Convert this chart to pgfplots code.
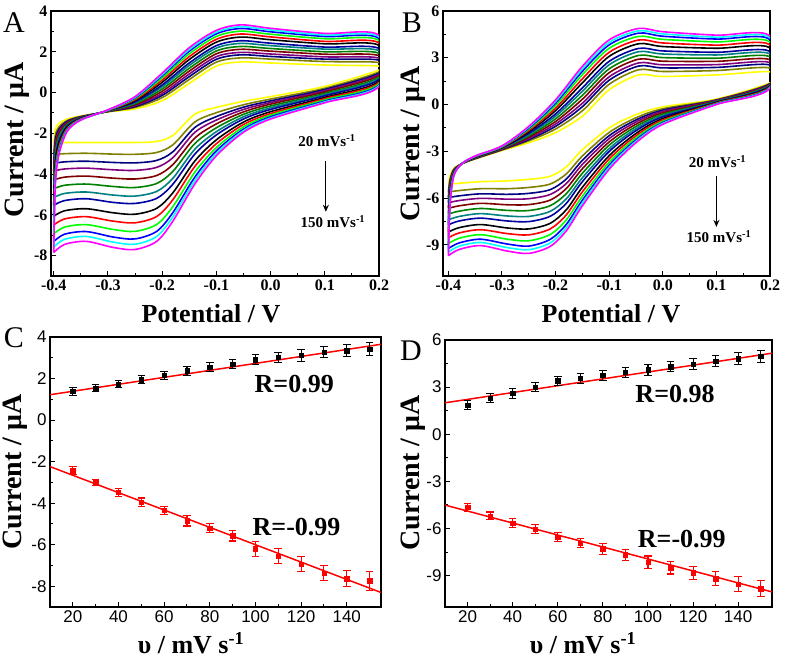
\documentclass[border=0pt]{standalone}
\usepackage{fontspec}
\setmainfont{Liberation Serif}
\newfontfamily\arial{Liberation Sans}
\usepackage{pgfplots}
\usepackage{pgfplotstable}
\pgfplotsset{compat=1.18}
\usetikzlibrary{arrows.meta}

\definecolor{col20}{RGB}{255,255,0}
\definecolor{col30}{RGB}{128,128,0}
\definecolor{col40}{RGB}{0,0,128}
\definecolor{col50}{RGB}{128,0,128}
\definecolor{col60}{RGB}{128,0,0}
\definecolor{col70}{RGB}{0,128,0}
\definecolor{col80}{RGB}{0,128,128}
\definecolor{col90}{RGB}{0,0,160}
\definecolor{col100}{RGB}{0,0,0}
\definecolor{col110}{RGB}{255,0,0}
\definecolor{col120}{RGB}{0,255,0}
\definecolor{col130}{RGB}{0,0,255}
\definecolor{col140}{RGB}{0,255,255}
\definecolor{col150}{RGB}{255,0,255}

% CV loops, panel A (anodic sweep, then cathodic sweep back)
\pgfplotstableread{
x c20 c30 c40 c50 c60 c70 c80 c90 c100 c110 c120 c130 c140 c150
-0.4 -2.45 -3.04 -3.48 -3.85 -4.29 -4.72 -5.15 -5.53 -6.07 -6.50 -6.93 -7.31 -7.58 -7.85
-0.397 -1.80 -2.10 -2.31 -2.50 -2.72 -2.93 -3.15 -3.34 -3.61 -3.83 -4.04 -4.23 -4.37 -4.50
-0.39 -1.50 -1.67 -1.79 -1.89 -2.01 -2.13 -2.25 -2.36 -2.51 -2.63 -2.75 -2.85 -2.93 -3.00
-0.375 -1.30 -1.37 -1.41 -1.46 -1.50 -1.55 -1.60 -1.64 -1.70 -1.75 -1.80 -1.84 -1.87 -1.90
-0.35 -1.15 -1.17 -1.19 -1.20 -1.22 -1.23 -1.25 -1.26 -1.28 -1.30 -1.32 -1.33 -1.34 -1.35
-0.30 -0.95 -0.94 -0.93 -0.92 -0.92 -0.91 -0.90 -0.89 -0.88 -0.88 -0.87 -0.86 -0.86 -0.85
-0.25 -0.80 -0.73 -0.69 -0.64 -0.60 -0.55 -0.50 -0.46 -0.40 -0.35 -0.30 -0.26 -0.23 -0.20
-0.20 -0.40 -0.25 -0.14 -0.05 0.06 0.17 0.28 0.37 0.50 0.61 0.72 0.82 0.88 0.95
-0.15 0.45 0.64 0.78 0.91 1.05 1.19 1.33 1.45 1.62 1.76 1.90 2.03 2.11 2.20
-0.10 1.30 1.49 1.63 1.76 1.90 2.04 2.18 2.30 2.47 2.61 2.75 2.88 2.96 3.05
-0.055 1.50 1.70 1.85 1.97 2.12 2.26 2.41 2.54 2.72 2.87 3.01 3.14 3.23 3.32
0.0 1.45 1.64 1.77 1.89 2.03 2.16 2.30 2.42 2.59 2.73 2.86 2.98 3.07 3.15
0.1 1.35 1.52 1.64 1.75 1.88 2.00 2.13 2.23 2.39 2.51 2.64 2.75 2.82 2.90
0.2 1.30 1.47 1.59 1.69 1.81 1.93 2.05 2.16 2.31 2.43 2.55 2.65 2.73 2.80
0.2 1.10 1.01 0.95 0.89 0.83 0.76 0.70 0.64 0.56 0.50 0.44 0.38 0.34 0.30
0.1 0.30 0.21 0.15 0.09 0.03 -0.04 -0.10 -0.16 -0.24 -0.30 -0.36 -0.42 -0.46 -0.50
0.0 -0.20 -0.32 -0.41 -0.49 -0.57 -0.66 -0.75 -0.83 -0.94 -1.03 -1.11 -1.19 -1.25 -1.30
-0.05 -0.43 -0.60 -0.72 -0.83 -0.95 -1.07 -1.19 -1.30 -1.45 -1.57 -1.69 -1.80 -1.87 -1.95
-0.10 -0.73 -0.99 -1.18 -1.35 -1.54 -1.73 -1.92 -2.08 -2.32 -2.51 -2.70 -2.86 -2.98 -3.10
-0.14 -1.07 -1.45 -1.72 -1.96 -2.24 -2.51 -2.79 -3.03 -3.37 -3.64 -3.92 -4.16 -4.33 -4.50
-0.18 -2.10 -2.56 -2.90 -3.19 -3.53 -3.86 -4.20 -4.49 -4.91 -5.25 -5.59 -5.88 -6.09 -6.30
-0.21 -2.40 -2.94 -3.33 -3.67 -4.07 -4.46 -4.85 -5.19 -5.68 -6.08 -6.47 -6.81 -7.06 -7.30
-0.25 -2.45 -3.03 -3.45 -3.82 -4.24 -4.66 -5.08 -5.44 -5.97 -6.39 -6.81 -7.18 -7.44 -7.70
-0.29 -2.45 -3.02 -3.43 -3.79 -4.20 -4.61 -5.03 -5.39 -5.90 -6.31 -6.72 -7.09 -7.34 -7.60
-0.34 -2.45 -2.98 -3.37 -3.71 -4.10 -4.49 -4.88 -5.21 -5.70 -6.09 -6.48 -6.82 -7.06 -7.30
-0.38 -2.45 -3.00 -3.40 -3.75 -4.15 -4.55 -4.95 -5.30 -5.80 -6.20 -6.60 -6.95 -7.20 -7.45
-0.4 -2.45 -3.04 -3.48 -3.85 -4.29 -4.72 -5.15 -5.53 -6.07 -6.50 -6.93 -7.31 -7.58 -7.85
}\tabA

% CV loops, panel B
\pgfplotstableread{
x c20 c30 c40 c50 c60 c70 c80 c90 c100 c110 c120 c130 c140 c150
-0.4 -5.10 -5.61 -5.97 -6.30 -6.66 -7.03 -7.40 -7.72 -8.18 -8.55 -8.92 -9.24 -9.47 -9.70
-0.397 -4.60 -4.81 -4.96 -5.09 -5.25 -5.40 -5.55 -5.68 -5.87 -6.03 -6.18 -6.31 -6.41 -6.50
-0.39 -4.10 -4.16 -4.20 -4.23 -4.27 -4.31 -4.35 -4.39 -4.44 -4.48 -4.52 -4.55 -4.58 -4.60
-0.375 -3.80 -3.80 -3.80 -3.80 -3.80 -3.80 -3.80 -3.80 -3.80 -3.80 -3.80 -3.80 -3.80 -3.80
-0.35 -3.50 -3.48 -3.46 -3.45 -3.43 -3.42 -3.40 -3.39 -3.37 -3.35 -3.33 -3.32 -3.31 -3.30
-0.30 -2.95 -2.92 -2.89 -2.87 -2.85 -2.82 -2.80 -2.78 -2.75 -2.73 -2.70 -2.68 -2.67 -2.65
-0.25 -2.45 -2.33 -2.25 -2.18 -2.09 -2.01 -1.93 -1.85 -1.75 -1.66 -1.58 -1.51 -1.45 -1.40
-0.20 -1.80 -1.57 -1.40 -1.25 -1.09 -0.92 -0.75 -0.60 -0.39 -0.23 -0.06 0.09 0.20 0.30
-0.15 -0.75 -0.40 -0.14 0.08 0.34 0.59 0.85 1.07 1.39 1.65 1.91 2.13 2.29 2.45
-0.10 0.95 1.30 1.56 1.78 2.04 2.29 2.55 2.77 3.09 3.35 3.61 3.83 3.99 4.15
-0.045 1.90 2.23 2.47 2.67 2.91 3.15 3.39 3.60 3.90 4.14 4.37 4.58 4.73 4.88
0.0 1.80 2.12 2.35 2.55 2.78 3.01 3.24 3.44 3.72 3.95 4.18 4.38 4.53 4.67
0.1 1.90 2.18 2.38 2.56 2.77 2.97 3.18 3.35 3.61 3.81 4.02 4.20 4.32 4.45
0.2 2.10 2.35 2.54 2.70 2.88 3.07 3.25 3.41 3.64 3.83 4.01 4.17 4.29 4.40
0.2 1.40 1.36 1.33 1.31 1.28 1.25 1.23 1.20 1.17 1.14 1.11 1.09 1.07 1.05
0.1 0.35 0.31 0.28 0.26 0.23 0.20 0.18 0.15 0.12 0.09 0.06 0.04 0.02 0.00
0.0 -0.15 -0.27 -0.36 -0.44 -0.53 -0.62 -0.71 -0.79 -0.90 -0.99 -1.08 -1.16 -1.21 -1.27
-0.05 -0.65 -0.85 -0.99 -1.12 -1.26 -1.41 -1.55 -1.68 -1.86 -2.00 -2.14 -2.27 -2.36 -2.45
-0.10 -1.50 -1.79 -2.00 -2.19 -2.40 -2.61 -2.83 -3.01 -3.28 -3.49 -3.70 -3.89 -4.02 -4.15
-0.15 -2.90 -3.30 -3.58 -3.84 -4.12 -4.41 -4.70 -4.95 -5.31 -5.60 -5.89 -6.14 -6.32 -6.50
-0.18 -4.00 -4.45 -4.78 -5.07 -5.39 -5.72 -6.05 -6.34 -6.75 -7.08 -7.40 -7.69 -7.90 -8.10
-0.21 -4.60 -5.10 -5.46 -5.77 -6.13 -6.49 -6.85 -7.17 -7.62 -7.98 -8.34 -8.65 -8.88 -9.10
-0.25 -4.80 -5.32 -5.70 -6.04 -6.42 -6.80 -7.18 -7.51 -7.98 -8.36 -8.74 -9.08 -9.31 -9.55
-0.29 -4.90 -5.40 -5.76 -6.07 -6.43 -6.79 -7.15 -7.47 -7.92 -8.28 -8.64 -8.95 -9.18 -9.40
-0.34 -4.95 -5.40 -5.73 -6.02 -6.34 -6.67 -7.00 -7.29 -7.70 -8.03 -8.35 -8.64 -8.85 -9.05
-0.38 -5.05 -5.52 -5.86 -6.16 -6.50 -6.84 -7.18 -7.47 -7.90 -8.24 -8.58 -8.88 -9.09 -9.30
-0.4 -5.10 -5.61 -5.97 -6.30 -6.66 -7.03 -7.40 -7.72 -8.18 -8.55 -8.92 -9.24 -9.47 -9.70
}\tabB

\pgfplotsset{
  panel/.style={
    scale only axis, anchor=south west,
    axis line style={line width=1.2pt},
    tick align=inside, tick pos=left,
    major tick length=5pt, minor tick length=3pt,
    every tick/.style={black, line width=1pt},
    minor tick num=1,
  },
  cvpanel/.style={panel,
    tick label style={font=\fontsize{16}{16}\selectfont\bfseries},
    xmax=0.2,
    xtick={-0.4,-0.3,-0.2,-0.1,0,0.1,0.2},
    xticklabels={-0.4,-0.3,-0.2,-0.1,0.0,0.1,0.2},
  },
  fitpanel/.style={panel,
    tick label style={font=\arial\fontsize{17}{17}\selectfont},
    xmin=10, xmax=155,
    xtick={20,40,60,80,100,120,140},
    xticklabels={20,40,60,80,100,120,140},
  },
  cv/.style={smooth, line width=1.6pt},
  pts/.style={only marks, mark=square*, mark size=2.2pt,
    error bars/y dir=both, error bars/y explicit,
    error bars/error bar style={line width=1.1pt},
    error bars/error mark options={rotate=90, mark size=3.8pt, line width=1.1pt}},
}

\begin{document}
\begin{tikzpicture}

% ---------- A ----------
\begin{axis}[cvpanel, at={(51pt,386pt)}, width=328pt, height=265pt,
  xmin=-0.405, ymin=-9, ymax=4,
  ytick={-8,-6,-4,-2,0,2,4}, yticklabels={-8,-6,-4,-2,0,2,4}]
\pgfplotsinvokeforeach{20,30,40,50,60,70,80,90,100,110,120,130,140,150}{
  \addplot[cv, color=col#1] table[x=x, y=c#1] {\tabA};
}
\node[font=\fontsize{15}{15}\selectfont\bfseries] at (axis cs:0.104,-2.35) {20 mVs\textsuperscript{-1}};
\draw[-{Stealth[length=7pt,width=6pt]}, line width=1.2pt] (axis cs:0.102,-3.35) -- (axis cs:0.102,-5.85);
\node[font=\fontsize{15}{15}\selectfont\bfseries] at (axis cs:0.115,-6.35) {150 mVs\textsuperscript{-1}};
\end{axis}

% ---------- B ----------
\begin{axis}[cvpanel, at={(443pt,386pt)}, width=327pt, height=265pt,
  xmin=-0.41, ymin=-11, ymax=6,
  ytick={-9,-6,-3,0,3,6}, yticklabels={-9,-6,-3,0,3,6}]
\pgfplotsinvokeforeach{20,30,40,50,60,70,80,90,100,110,120,130,140,150}{
  \addplot[cv, color=col#1] table[x=x, y=c#1] {\tabB};
}
\node[font=\fontsize{15}{15}\selectfont\bfseries] at (axis cs:0.102,-3.65) {20 mVs\textsuperscript{-1}};
\draw[-{Stealth[length=7pt,width=6pt]}, line width=1.2pt] (axis cs:0.100,-4.6) -- (axis cs:0.100,-7.85);
\node[font=\fontsize{15}{15}\selectfont\bfseries] at (axis cs:0.105,-8.5) {150 mVs\textsuperscript{-1}};
\end{axis}

% ---------- C ----------
\begin{axis}[fitpanel, at={(50pt,55pt)}, width=331pt, height=270pt,
  ymin=-9, ymax=4,
  ytick={-8,-6,-4,-2,0,2,4}, yticklabels={-8,-6,-4,-2,0,2,4}]
\addplot[red, line width=1.5pt] coordinates {(10,1.22) (155,3.65)};
\addplot[red, line width=1.5pt] coordinates {(10,-2.24) (155,-8.30)};
\addplot[black, pts] coordinates {
 (20,1.38) +- (0,0.18) (30,1.54) +- (0,0.18) (40,1.73) +- (0,0.18) (50,1.94) +- (0,0.2)
 (60,2.15) +- (0,0.2) (70,2.38) +- (0,0.22) (80,2.54) +- (0,0.22) (90,2.70) +- (0,0.22)
 (100,2.91) +- (0,0.25) (110,3.02) +- (0,0.25) (120,3.11) +- (0,0.27) (130,3.28) +- (0,0.27)
 (140,3.34) +- (0,0.3) (150,3.42) +- (0,0.3)};
\addplot[red, pts] coordinates {
 (20,-2.44) +- (0,0.2) (30,-3.00) +- (0,0.15) (40,-3.48) +- (0,0.18) (50,-3.95) +- (0,0.2)
 (60,-4.35) +- (0,0.2) (70,-4.85) +- (0,0.25) (80,-5.20) +- (0,0.22) (90,-5.57) +- (0,0.25)
 (100,-6.20) +- (0,0.35) (110,-6.54) +- (0,0.35) (120,-6.93) +- (0,0.35) (130,-7.37) +- (0,0.35)
 (140,-7.63) +- (0,0.4) (150,-7.74) +- (0,0.45)};
\node[font=\fontsize{26}{26}\selectfont\bfseries] at (axis cs:117,1.72) {R=0.99};
\node[font=\fontsize{26}{26}\selectfont\bfseries] at (axis cs:118,-5.16) {R=-0.99};
\end{axis}

% ---------- D ----------
\begin{axis}[fitpanel, at={(445pt,55pt)}, width=327pt, height=267pt,
  ymin=-11, ymax=6,
  ytick={-9,-6,-3,0,3,6}, yticklabels={-9,-6,-3,0,3,6}]
\addplot[red, line width=1.5pt] coordinates {(10,2.00) (155,5.16)};
\addplot[red, line width=1.5pt] coordinates {(10,-4.51) (155,-10.04)};
\addplot[black, pts] coordinates {
 (20,1.85) +- (0,0.3) (30,2.30) +- (0,0.3) (40,2.60) +- (0,0.3) (50,3.00) +- (0,0.3)
 (60,3.40) +- (0,0.3) (70,3.55) +- (0,0.3) (80,3.75) +- (0,0.32) (90,3.95) +- (0,0.32)
 (100,4.10) +- (0,0.35) (110,4.30) +- (0,0.32) (120,4.45) +- (0,0.35) (130,4.65) +- (0,0.35)
 (140,4.80) +- (0,0.38) (150,4.95) +- (0,0.4)};
\addplot[red, pts] coordinates {
 (20,-4.66) +- (0,0.25) (30,-5.20) +- (0,0.25) (40,-5.67) +- (0,0.28) (50,-6.05) +- (0,0.28)
 (60,-6.55) +- (0,0.3) (70,-6.93) +- (0,0.3) (80,-7.30) +- (0,0.35) (90,-7.67) +- (0,0.35)
 (100,-8.15) +- (0,0.4) (110,-8.50) +- (0,0.4) (120,-8.82) +- (0,0.42) (130,-9.20) +- (0,0.45)
 (140,-9.56) +- (0,0.48) (150,-9.83) +- (0,0.5)};
\node[font=\fontsize{26}{26}\selectfont\bfseries] at (axis cs:112,2.55) {R=0.98};
\node[font=\fontsize{26}{26}\selectfont\bfseries] at (axis cs:115,-6.65) {R=-0.99};
\end{axis}

% panel letters
\node[font=\fontsize{30}{30}\selectfont] at (14pt,639pt) {A};
\node[font=\fontsize{30}{30}\selectfont] at (412pt,639pt) {B};
\node[font=\fontsize{30}{30}\selectfont] at (14pt,324pt) {C};
\node[font=\fontsize{30}{30}\selectfont] at (411pt,311pt) {D};

% axis titles
\node[rotate=90, font=\fontsize{28}{28}\selectfont\bfseries] at (17pt,522pt) {Current / μA};
\node[rotate=90, font=\fontsize{28}{28}\selectfont\bfseries] at (413pt,518pt) {Current / μA};
\node[rotate=90, font=\fontsize{28}{28}\selectfont\bfseries] at (15pt,190pt) {Current / μA};
\node[rotate=90, font=\fontsize{28}{28}\selectfont\bfseries] at (413pt,189pt) {Current / μA};
\node[font=\fontsize{26}{26}\selectfont\bfseries] at (211pt,348pt) {Potential / V};
\node[font=\fontsize{26}{26}\selectfont\bfseries] at (611pt,348pt) {Potential / V};
\node[font=\fontsize{26}{26}\selectfont\bfseries] at (191pt,19pt) {υ / mV s\textsuperscript{-1}};
\node[font=\fontsize{26}{26}\selectfont\bfseries] at (583pt,19pt) {υ / mV s\textsuperscript{-1}};

\pgfresetboundingbox
\path[use as bounding box] (0pt,0pt) rectangle (787pt,662pt);
\end{tikzpicture}
\end{document}
